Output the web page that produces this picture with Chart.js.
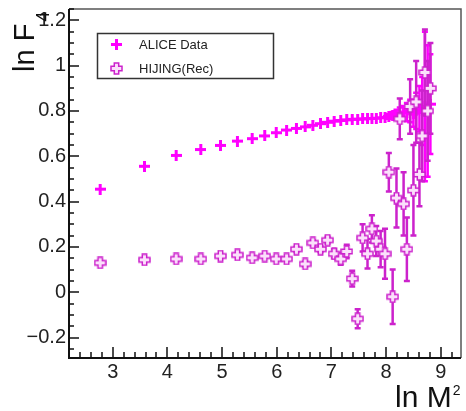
<!DOCTYPE html>
<html>
<head>
<meta charset="utf-8">
<script src="https://cdn.jsdelivr.net/npm/chart.js@4/dist/chart.umd.min.js"></script>
<style>
  html, body { margin: 0; padding: 0; background: #fff; }
</style>
</head>
<body>
<canvas id="lnChart" width="466" height="411"></canvas>
<script>
// ln M^2 bin positions
const lnM2 = [2.77,3.58,4.16,4.61,4.97,5.28,5.55,5.78,5.99,6.18,6.36,6.52,6.66,6.80,6.93,7.05,7.17,7.28,7.38,7.48,
              7.57,7.66,7.74,7.82,7.90,7.98,8.05,8.12,8.19,8.25,8.32,8.38,8.44,8.50,8.55,8.61,8.66,8.71,8.76,8.81];

// ALICE data: ln F4 and error
const aliceF4 = [0.455,0.556,0.604,0.630,0.648,0.667,0.678,0.690,0.704,0.716,0.723,0.730,0.737,0.744,0.750,0.755,0.758,0.761,0.763,0.764,
                 0.765,0.766,0.767,0.768,0.770,0.772,0.776,0.780,0.785,0.790,0.792,0.795,0.800,0.790,0.800,0.810,0.800,0.820,0.800,0.830];
const aliceErr = [0.002,0.002,0.002,0.002,0.002,0.002,0.002,0.002,0.002,0.002,0.002,0.002,0.002,0.002,0.002,0.003,0.003,0.003,0.003,0.004,
                  0.004,0.005,0.005,0.006,0.007,0.008,0.010,0.015,0.020,0.025,0.030,0.040,0.050,0.060,0.080,0.100,0.150,0.330,0.290,0.220];

// HIJING (Rec): ln F4 and error
const hijingF4 = [0.130,0.143,0.147,0.147,0.160,0.165,0.152,0.160,0.147,0.147,0.190,0.125,0.218,0.190,0.230,0.170,0.147,0.180,0.060,-0.117,
                  0.240,0.170,0.280,0.226,0.190,0.170,0.530,-0.020,0.416,0.765,0.390,0.190,0.820,0.450,0.840,0.520,0.690,0.970,0.800,0.900];
const hijingErr = [0.004,0.004,0.004,0.004,0.004,0.004,0.004,0.004,0.005,0.005,0.010,0.010,0.010,0.012,0.015,0.020,0.025,0.030,0.035,0.042,
                   0.060,0.065,0.060,0.066,0.080,0.110,0.085,0.120,0.130,0.090,0.140,0.140,0.120,0.200,0.180,0.140,0.200,0.190,0.220,0.200];

const xTicks = [3, 4, 5, 6, 7, 8, 9];
const yTicks = [-0.2, 0, 0.2, 0.4, 0.6, 0.8, 1, 1.2];

const aliceColor = '#ff00ff';
const hijingColor = '#cc22cc';

// filled plus marker
function plusMarker() {
  const c = document.createElement('canvas');
  c.width = 11; c.height = 11;
  const g = c.getContext('2d');
  g.fillStyle = aliceColor;
  g.fillRect(0, 4, 11, 3);
  g.fillRect(4, 0, 3, 11);
  return c;
}

// open cross marker
function openCrossMarker() {
  const c = document.createElement('canvas');
  c.width = 13; c.height = 13;
  const g = c.getContext('2d');
  const m = 6.5, L = 5.5, a = 2.2;
  g.beginPath();
  g.moveTo(m - a, m - L); g.lineTo(m + a, m - L); g.lineTo(m + a, m - a);
  g.lineTo(m + L, m - a); g.lineTo(m + L, m + a); g.lineTo(m + a, m + a);
  g.lineTo(m + a, m + L); g.lineTo(m - a, m + L); g.lineTo(m - a, m + a);
  g.lineTo(m - L, m + a); g.lineTo(m - L, m - a); g.lineTo(m - a, m - a);
  g.closePath();
  g.fillStyle = '#fbe0fb';
  g.fill();
  g.strokeStyle = hijingColor;
  g.lineWidth = 1.5;
  g.stroke();
  return c;
}

const alicePt = plusMarker();
const hijingPt = openCrossMarker();

const errors = [aliceErr, hijingErr];

// draws vertical error bars before each dataset
const errorBars = {
  id: 'errorBars',
  beforeDatasetDraw(chart, args) {
    const ds = chart.data.datasets[args.index];
    const err = errors[ds.errIndex];
    const y = chart.scales.y;
    const ctx = chart.ctx;
    ctx.save();
    ctx.strokeStyle = ds.barColor;
    ctx.lineWidth = 2.5;
    args.meta.data.forEach((pt, i) => {
      const e = err[i];
      if (e < 0.01) return;
      const v = ds.data[i].y;
      const top = y.getPixelForValue(v + e);
      const bot = y.getPixelForValue(v - e);
      ctx.beginPath();
      ctx.moveTo(pt.x, top); ctx.lineTo(pt.x, bot);
      ctx.moveTo(pt.x - 3, top); ctx.lineTo(pt.x + 3, top);
      ctx.moveTo(pt.x - 3, bot); ctx.lineTo(pt.x + 3, bot);
      ctx.stroke();
    });
    ctx.restore();
  }
};

// frame, inward ticks, axis titles and legend box
const decorations = {
  id: 'decorations',
  afterDraw(chart) {
    const ctx = chart.ctx;
    const a = chart.chartArea;
    const x = chart.scales.x, y = chart.scales.y;
    ctx.save();

    // frame
    ctx.strokeStyle = '#555';
    ctx.lineWidth = 1.5;
    ctx.beginPath();
    ctx.moveTo(a.left, a.top); ctx.lineTo(a.right, a.top); ctx.lineTo(a.right, a.bottom);
    ctx.stroke();
    ctx.strokeStyle = '#111';
    ctx.lineWidth = 2;
    ctx.beginPath();
    ctx.moveTo(a.left, a.top); ctx.lineTo(a.left, a.bottom); ctx.lineTo(a.right, a.bottom);
    ctx.stroke();

    // inward ticks
    ctx.fillStyle = '#111';
    for (let i = 11; i <= 46; i++) {
      const px = Math.round(x.getPixelForValue(i / 5));
      const len = i % 5 === 0 ? 11 : 6;
      ctx.fillRect(px - 0.75, a.bottom - len, 1.5, len);
    }
    for (let i = -5; i <= 25; i++) {
      const py = Math.round(y.getPixelForValue(i / 20));
      const len = i % 4 === 0 ? 10 : 5;
      ctx.fillRect(a.left, py - 0.75, len, 1.5);
    }

    // axis titles
    ctx.fillStyle = '#111';
    ctx.textBaseline = 'alphabetic';
    ctx.textAlign = 'left';
    ctx.font = '30px "Liberation Sans", Arial, sans-serif';
    const wM = ctx.measureText('ln M').width;
    ctx.fillText('ln M', 395, 407);
    ctx.font = '14px "Liberation Sans", Arial, sans-serif';
    ctx.fillText('2', 396 + wM, 395);

    ctx.save();
    ctx.translate(34, 72);
    ctx.rotate(-Math.PI / 2);
    ctx.font = '29px "Liberation Sans", Arial, sans-serif';
    const wF = ctx.measureText('ln F').width;
    ctx.fillText('ln F', 0, 0);
    ctx.font = '18px "Liberation Sans", Arial, sans-serif';
    ctx.fillText('4', wF + 2, 15);
    ctx.restore();

    // legend
    ctx.strokeStyle = '#333';
    ctx.lineWidth = 1.5;
    ctx.fillStyle = '#fff';
    ctx.fillRect(97, 33, 177, 46);
    ctx.strokeRect(97.5, 33.5, 176, 45);
    ctx.drawImage(alicePt, 111, 39);
    ctx.drawImage(hijingPt, 110, 62);
    ctx.fillStyle = '#222';
    ctx.font = '13px "Liberation Sans", Arial, sans-serif';
    ctx.textBaseline = 'middle';
    ctx.fillText('ALICE Data', 139, 45);
    ctx.fillText('HIJING(Rec)', 139, 69);
    ctx.restore();
  }
};

const tickFont = { family: '"Liberation Sans", Arial, sans-serif', size: 20 };

new Chart(document.getElementById('lnChart'), {
  type: 'scatter',
  data: {
    datasets: [
      {
        label: 'ALICE Data',
        data: lnM2.map((v, i) => ({ x: v, y: aliceF4[i] })),
        pointStyle: alicePt,
        barColor: aliceColor,
        errIndex: 0,
        order: 2
      },
      {
        label: 'HIJING(Rec)',
        data: lnM2.map((v, i) => ({ x: v, y: hijingF4[i] })),
        pointStyle: hijingPt,
        barColor: hijingColor,
        errIndex: 1,
        order: 1
      }
    ]
  },
  options: {
    responsive: false,
    animation: false,
    devicePixelRatio: 1,
    layout: { padding: { top: 9, right: 4, left: 0, bottom: 0 } },
    plugins: {
      legend: { display: false },
      tooltip: { enabled: false }
    },
    scales: {
      x: {
        type: 'linear',
        min: 2.2,
        max: 9.37,
        grid: { display: false, drawTicks: false },
        border: { display: false },
        afterBuildTicks: ax => { ax.ticks = xTicks.map(v => ({ value: v })); },
        ticks: { color: '#222', font: tickFont, padding: 2, maxRotation: 0, callback: v => String(v) },
        afterFit: ax => { ax.height = 53; ax.paddingLeft = 0; ax.paddingRight = 0; }
      },
      y: {
        type: 'linear',
        min: -0.29,
        max: 1.25,
        grid: { display: false, drawTicks: false },
        border: { display: false },
        afterBuildTicks: ax => { ax.ticks = yTicks.map(v => ({ value: v })); },
        ticks: {
          color: '#222',
          font: tickFont,
          padding: 3,
          callback: v => v < 0 ? '\u2212' + Math.abs(v) : String(v)
        },
        afterFit: ax => { ax.width = 69; ax.paddingTop = 0; ax.paddingBottom = 0; }
      }
    }
  },
  plugins: [errorBars, decorations]
});
</script>
</body>
</html>
